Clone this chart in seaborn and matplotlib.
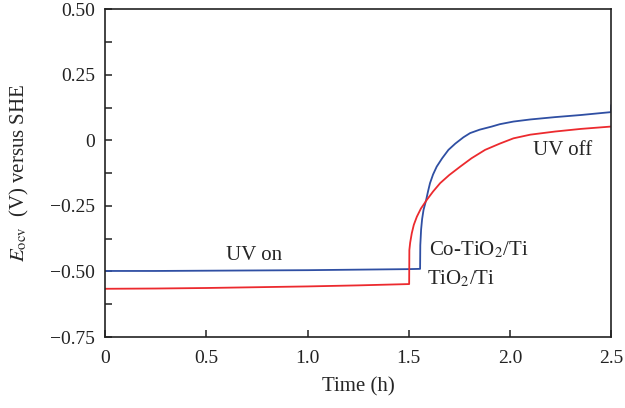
import numpy as np
import pandas as pd
import matplotlib
matplotlib.use('Agg')
import matplotlib.pyplot as plt
import seaborn as sns
from matplotlib.ticker import MultipleLocator

# Co-TiO2/Ti (blue)
co_time = [0.0, 0.25, 0.5, 0.75, 1.0, 1.25, 1.5, 1.556, 1.557, 1.561, 1.566, 1.573, 1.586,
           1.595, 1.605, 1.62, 1.638, 1.665, 1.696, 1.73, 1.77, 1.803, 1.85, 1.91, 1.95,
           2.017, 2.1, 2.223, 2.35, 2.498, 2.5]
co_eocv = [-0.498, -0.498, -0.497, -0.496, -0.495, -0.493, -0.491, -0.490, -0.40, -0.34,
           -0.30, -0.265, -0.227, -0.195, -0.163, -0.130, -0.100, -0.068, -0.036, -0.012,
           0.012, 0.028, 0.041, 0.053, 0.062, 0.072, 0.080, 0.089, 0.097, 0.108, 0.135]

# TiO2/Ti (red)
ti_time = [0.0, 0.25, 0.5, 0.75, 1.0, 1.25, 1.502, 1.503, 1.507, 1.515, 1.525, 1.54, 1.56,
           1.589, 1.62, 1.655, 1.70, 1.754, 1.81, 1.877, 1.95, 2.017, 2.1, 2.223, 2.35, 2.5]
ti_eocv = [-0.566, -0.565, -0.563, -0.560, -0.557, -0.553, -0.548, -0.418, -0.39, -0.354,
           -0.322, -0.291, -0.260, -0.227, -0.195, -0.163, -0.132, -0.100, -0.068, -0.036,
           -0.012, 0.008, 0.022, 0.034, 0.044, 0.053]

x_ticks = [0, 0.5, 1.0, 1.5, 2.0, 2.5]
x_labels = ['0', '0.5', '1.0', '1.5', '2.0', '2.5']
y_ticks = [0.5, 0.25, 0, -0.25, -0.5, -0.75]
y_labels = ['0.50', '0.25', '0', '\u22120.25', '\u22120.50', '\u22120.75']

df = pd.concat([
    pd.DataFrame({'Time': co_time, 'E': co_eocv, 'Sample': 'Co-TiO2/Ti'}),
    pd.DataFrame({'Time': ti_time, 'E': ti_eocv, 'Sample': 'TiO2/Ti'}),
])

sns.set_style('ticks')
plt.rcParams['font.family'] = ['Liberation Serif', 'DejaVu Serif']
plt.rcParams['mathtext.fontset'] = 'stix'

fig, ax = plt.subplots(figsize=(6.25, 4.08), dpi=100)
fig.subplots_adjust(left=0.168, right=0.978, top=0.977, bottom=0.174)

sns.lineplot(data=df, x='Time', y='E', hue='Sample', sort=False, estimator=None,
             palette={'Co-TiO2/Ti': '#2f4fa3', 'TiO2/Ti': '#ec2a2e'},
             linewidth=1.3, legend=False, ax=ax)

ax.set_xlim(0, 2.5)
ax.set_ylim(-0.75, 0.5)
ax.set_xticks(x_ticks)
ax.set_xticklabels(x_labels)
ax.set_yticks(y_ticks)
ax.set_yticklabels(y_labels)
ax.yaxis.set_minor_locator(MultipleLocator(0.125))
ax.tick_params(axis='both', which='both', direction='in', length=5, width=1.1,
               labelsize=14, colors='#222222', top=False, right=False)
ax.tick_params(axis='x', pad=9)
ax.tick_params(axis='y', pad=7)
for s in ax.spines.values():
    s.set_linewidth(1.2)
    s.set_color('#222222')

ax.set_xlabel('Time (h)', fontsize=15, labelpad=8)
ax.set_ylabel(r'$E_{\rm ocv}$  (V) versus SHE', fontsize=15, labelpad=14)

ax.text(0.736, -0.438, 'UV on', fontsize=15, ha='center', va='center')
ax.text(2.258, -0.039, 'UV off', fontsize=15, ha='center', va='center')
ax.text(1.601, -0.416, r'Co-TiO$_2$/Ti', fontsize=15, ha='left', va='center')
ax.text(1.589, -0.530, r'TiO$_2$/Ti', fontsize=15, ha='left', va='center')

fig.savefig('out.png', dpi=100)
